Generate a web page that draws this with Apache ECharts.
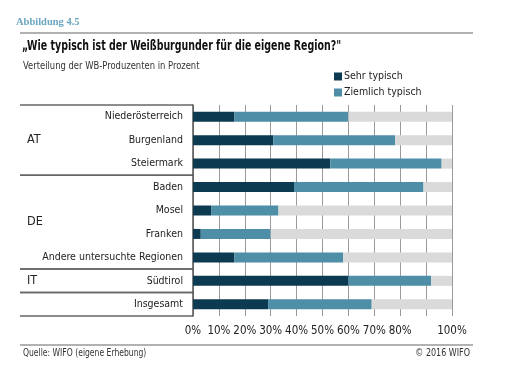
<!DOCTYPE html>
<html><head><meta charset="utf-8">
<script src="https://cdn.jsdelivr.net/npm/echarts@6/dist/echarts.min.js"></script>
<style>html,body{margin:0;padding:0;background:#fff}#c{width:520px;height:388px}</style>
</head><body><div id="c"></div>
<script>
var categories = ['Niederösterreich','Burgenland','Steiermark','Baden','Mosel','Franken','Andere untersuchte Regionen','Südtirol','Insgesamt'];
var sehrTypisch = [16, 31, 53, 39, 7, 3, 16, 60, 29];
var ziemlichTypisch = [44, 47, 43, 50, 26, 27, 42, 32, 40];
var rest = [40, 22, 4, 11, 67, 70, 42, 8, 31];
var groups = [{label:'AT', start:0, end:2},{label:'DE', start:3, end:6},{label:'IT', start:7, end:7},{label:'', start:8, end:8}];
var seriesNames = ['Sehr typisch','Ziemlich typisch'];

var FONT = "'Liberation Sans Narrow','DejaVu Sans Condensed',sans-serif";
var chart = echarts.init(document.getElementById('c'), null, {renderer:'canvas'});
var option = {
  animation:false,
  textStyle:{fontFamily:FONT},
  legend:{
    data:seriesNames, orient:'vertical', left:329, top:66, itemWidth:8, itemHeight:8, itemGap:5,
    icon:'rect', textStyle:{fontFamily:FONT, fontSize:10.5, color:'#222', padding:[0,0,0,-3]}
  },
  grid:{left:193, right:68, top:105, bottom:72, containLabel:false},
  xAxis:{type:'value', min:0, max:100, interval:10,
    axisLabel:{formatter:'{value}%', fontFamily:FONT, fontSize:11.5, color:'#222', margin:9, showMaxLabel:true, showMinLabel:true, hideOverlap:false},
    axisLine:{show:false}, axisTick:{show:false},
    splitLine:{show:true, lineStyle:{color:'#9a9a9a', width:1}}
  },
  yAxis:{type:'category', data:categories, inverse:true,
    axisLabel:{fontFamily:FONT, fontSize:10.5, color:'#222', margin:10},
    axisLine:{show:true, lineStyle:{color:'#555', width:1.5}}, axisTick:{show:false}
  },
  series:[
    {name:seriesNames[0], type:'bar', stack:'s', data:sehrTypisch, barWidth:10, itemStyle:{color:'#0c3a50'}},
    {name:seriesNames[1], type:'bar', stack:'s', data:ziemlichTypisch, barWidth:10, itemStyle:{color:'#4f8ea7'}},
    {name:'Nicht typisch', type:'bar', stack:'s', data:rest, barWidth:10, itemStyle:{color:'#dadada'}}
  ]
};
chart.setOption(option);

var y0 = chart.convertToPixel({yAxisIndex:0}, 0);
var y1 = chart.convertToPixel({yAxisIndex:0}, 1);
var band = y1 - y0;
var axisX = chart.convertToPixel({xAxisIndex:0}, 0);
var lineStyle = {stroke:'#666', lineWidth:1.5};
var g = [
  {type:'text', x:16, y:17, style:{text:'Abbildung 4.5', font:"bold 10.5px 'Liberation Serif','DejaVu Serif',serif", fill:'#6aa6bf'}},
  {type:'line', shape:{x1:20, y1:33, x2:473, y2:33}, style:{stroke:'#999', lineWidth:1.5}},
  {type:'text', x:22, y:39, scaleX:0.75, style:{text:'\u201EWie typisch ist der Weißburgunder für die eigene Region?"', font:"bold 14px "+FONT, fill:'#111'}},
  {type:'text', x:23, y:61, scaleX:0.85, style:{text:'Verteilung der WB-Produzenten in Prozent', font:"11px "+FONT, fill:'#333'}},
  {type:'line', shape:{x1:20, y1:345, x2:473, y2:345}, style:{stroke:'#999', lineWidth:1.5}},
  {type:'text', x:23, y:348, scaleX:0.85, style:{text:'Quelle: WIFO (eigene Erhebung)', font:"10px "+FONT, fill:'#333'}},
  {type:'text', x:470, y:348, scaleX:0.89, style:{text:'\u00A9 2016 WIFO', font:"10px "+FONT, fill:'#333', align:'right'}}
];
groups.forEach(function(gr){
  var top = chart.convertToPixel({yAxisIndex:0}, gr.start) - band/2;
  var bot = chart.convertToPixel({yAxisIndex:0}, gr.end) + band/2;
  g.push({type:'line', shape:{x1:20, y1:top, x2:axisX, y2:top}, style:lineStyle});
  g.push({type:'line', shape:{x1:20, y1:bot, x2:axisX, y2:bot}, style:lineStyle});
  if (gr.label) g.push({type:'text', x:27, y:(top+bot)/2-7, style:{text:gr.label, font:"12.5px "+FONT, fill:'#222'}});
});
chart.setOption({graphic:g});
</script></body></html>
